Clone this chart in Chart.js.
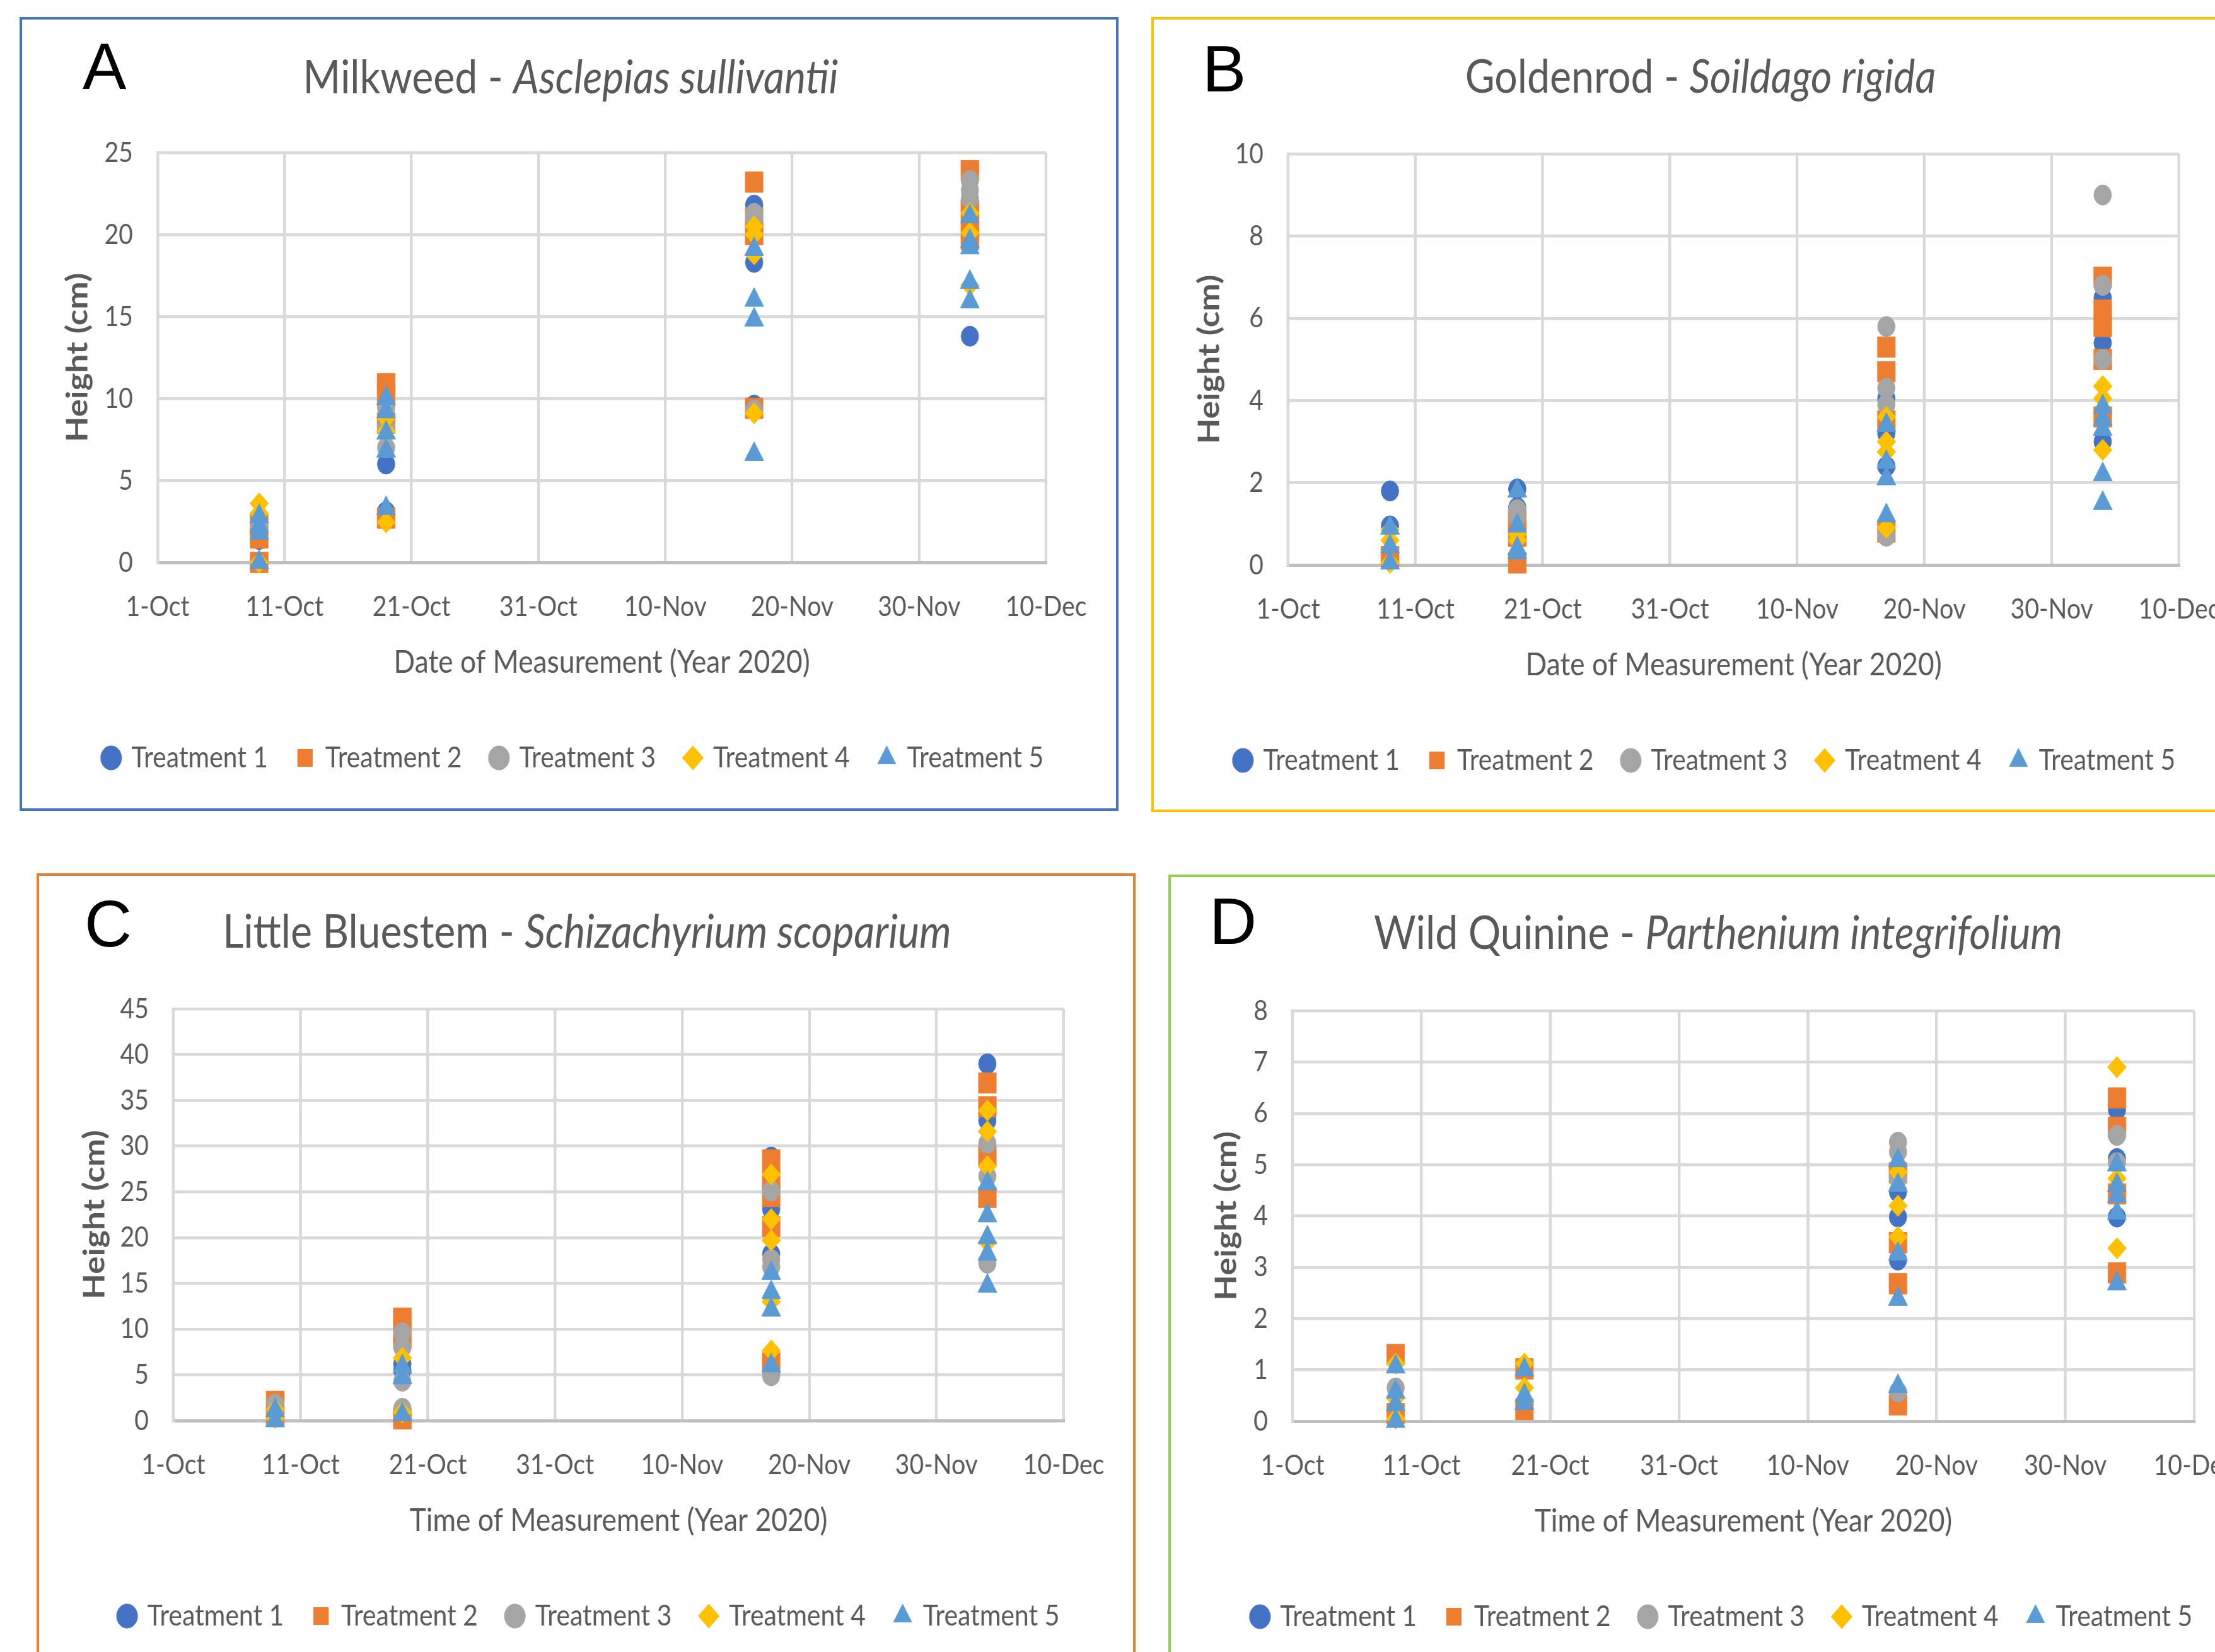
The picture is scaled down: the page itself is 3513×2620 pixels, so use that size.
<!DOCTYPE html>
<html>
<head>
<meta charset="utf-8">
<script src="https://cdn.jsdelivr.net/npm/chart.js@4.4.1/dist/chart.umd.min.js"></script>
<style>
  html, body { margin: 0; padding: 0; background: #fff; }
  body { width: 3513px; height: 2620px; position: relative; overflow: hidden; }
  .panel { position: absolute; box-sizing: border-box; border: 4px solid; }
  .letter { position: absolute; font-family: "Liberation Sans", Arial, sans-serif; font-size: 104px; line-height: 1; color: #000; }
  .ttl { position: absolute; font-family: Lato, "Open Sans", sans-serif; font-size: 74px; line-height: 1;
         color: #595959; white-space: nowrap; transform: translateX(-50%) scaleX(0.87); }
  .wrap { position: absolute; transform-origin: 0 0; }
  .wrap canvas { position: absolute; left: 0; top: 0; }
</style>
</head>
<body>
<script>
// measurement dates, as days after 1-Oct-2020 (9-Oct, 19-Oct, 17-Nov, 4-Dec)
const measureDays = [8, 18, 47, 64];
const dateTicks = ["1-Oct", "11-Oct", "21-Oct", "31-Oct", "10-Nov", "20-Nov", "30-Nov", "10-Dec"];
const treatmentNames = ["Treatment 1", "Treatment 2", "Treatment 3", "Treatment 4", "Treatment 5"];

// heights in cm, one list per measurement date
const milkweedT1 = [[1.4, 2.2], [6.0, 9.6, 3.1], [21.8, 18.3, 9.6], [13.8, 20.0]];
const milkweedT2 = [[1.5, 0, 2.3], [10.9, 10.3, 8.5, 2.7], [23.2, 21.0, 20.0, 9.4], [23.9, 21.5, 20.5, 19.7]];
const milkweedT3 = [[2.2], [9.4, 8.2, 7.0], [21.3, 21.0, 9.3], [23.3, 22.7, 22.2]];
const milkweedT4 = [[3.6, 3.0, 0], [8.0, 8.8, 2.45], [20.5, 20.0, 18.8, 9.1], [21.3, 20.1, 16.9]];
const milkweedT5 = [[2.8, 2.2, 1.8, 0], [10.0, 9.2, 7.9, 6.8, 3.3], [19.1, 16.0, 14.8, 6.6], [21.1, 19.6, 19.2, 17.1, 15.9]];

const goldenrodT1 = [[1.8, 0.95], [1.85, 1.4], [4.05, 3.2, 2.4], [6.5, 5.4, 3.0]];
const goldenrodT2 = [[0.2], [1.1, 0.7, 0.05], [5.3, 4.7, 3.5, 0.8], [7.0, 6.2, 5.8, 5.0, 3.6]];
const goldenrodT3 = [[], [1.35, 1.15], [5.8, 4.3, 3.9, 0.7], [9.0, 6.8, 5.0]];
const goldenrodT4 = [[0.85, 0.6, 0.05], [0.75, 0.6], [3.6, 3.0, 2.75, 0.9], [4.35, 4.05, 2.8]];
const goldenrodT5 = [[0.9, 0.45, 0.05], [1.8, 0.95, 0.4, 0.3], [3.4, 2.5, 2.1, 1.2], [3.85, 3.55, 3.3, 2.2, 1.5]];

const bluestemT1 = [[], [5.5, 6.2], [28.8, 23.1, 18.2], [39.0, 32.8]];
const bluestemT2 = [[2.1, 0.5], [11.2, 9.0, 0.2], [28.5, 26.2, 24.5, 21.2, 6.3], [36.9, 34.3, 28.9, 24.4]];
const bluestemT3 = [[1.8, 0.4], [9.6, 8.0, 4.3, 1.35], [25.1, 17.6, 16.8, 4.9], [30.3, 26.7, 17.2]];
const bluestemT4 = [[1.2, 0.3], [6.85, 0.9], [26.9, 22.0, 19.7, 13.0, 7.65], [33.9, 31.6, 27.8, 19.5]];
const bluestemT5 = [[1.1, 0.0], [5.9, 4.7, 0.65], [16.1, 14.0, 12.1, 6.0], [25.9, 22.4, 20.0, 18.2, 14.7]];

const quinineT1 = [[], [], [4.47, 3.98, 3.14], [6.07, 5.12, 3.98]];
const quinineT2 = [[1.3, 0.15], [1.02, 0.23], [4.84, 3.48, 2.68, 0.32], [6.3, 5.73, 4.43, 2.89]];
const quinineT3 = [[0.65], [], [5.44, 5.25, 4.73, 0.57], [5.57, 5.04]];
const quinineT4 = [[1.12, 0.45, 0.05], [1.12, 0.65], [4.86, 4.2, 3.59], [6.9, 4.73, 3.37]];
const quinineT5 = [[1.06, 0.57, 0.33, 0.0], [1.0, 0.5, 0.35], [5.08, 4.6, 3.26, 2.38, 0.68], [5.0, 4.6, 4.39, 4.06, 2.68]];

const colors = ["#4472C4", "#ED7D31", "#A5A5A5", "#FFC000", "#5B9BD5"];
const shapes = ["circle", "rect", "circle", "rectRot", "triangle"];
const radii = [16, 23, 16, 17, 20];

const FONT = 'Lato, "Open Sans", sans-serif';
const S = 0.87;           // the figure is squeezed horizontally
const X_AXIS_H = 232.5;
const LEG_FONT = 47, LEG_PAD = 54, LEG_BOX = 27;
const legendH = Math.max(LEG_FONT, LEG_BOX) + LEG_PAD + 10;

const panels = [
  { letter: "A", border: "#4472C4", box: [31, 27, 1774, 1286], cx: [35, 1785], ctop: 31,
    plot: [250, 242, 1659, 892], titleX: 905, titleBase: 149, letterAt: [131, 67],
    common: "Milkweed - ", latin: "Asclepias sullivantii", xTitle: "Date of Measurement (Year 2020)",
    yMax: 25, yStep: 5, series: [milkweedT1, milkweedT2, milkweedT3, milkweedT4, milkweedT5] },
  { letter: "B", border: "#FFC000", box: [1826, 27, 3560, 1288], cx: [1830, 3580], ctop: 31,
    plot: [2043, 244, 3456, 896], titleX: 2697, titleBase: 148, letterAt: [1907, 71],
    common: "Goldenrod - ", latin: "Soildago rigida", xTitle: "Date of Measurement (Year 2020)",
    yMax: 10, yStep: 2, series: [goldenrodT1, goldenrodT2, goldenrodT3, goldenrodT4, goldenrodT5] },
  { letter: "C", border: "#ED7D31", box: [58, 1385, 1801, 2660], cx: [62, 1808], ctop: 1389,
    plot: [275, 1600, 1687, 2253], titleX: 931, titleBase: 1504, letterAt: [134, 1427],
    common: "Little Bluestem - ", latin: "Schizachyrium scoparium", xTitle: "Time of Measurement (Year 2020)",
    yMax: 45, yStep: 5, series: [bluestemT1, bluestemT2, bluestemT3, bluestemT4, bluestemT5] },
  { letter: "D", border: "#92D050", box: [1853, 1387, 3560, 2660], cx: [1857, 3607], ctop: 1391,
    plot: [2050, 1603, 3480, 2254], titleX: 2725, titleBase: 1506, letterAt: [1918, 1423],
    common: "Wild Quinine - ", latin: "Parthenium integrifolium", xTitle: "Time of Measurement (Year 2020)",
    yMax: 8, yStep: 1, series: [quinineT1, quinineT2, quinineT3, quinineT4, quinineT5] }
];

function toPoints(series) {
  const pts = [];
  series.forEach((vals, i) => vals.forEach(v => pts.push({ x: measureDays[i], y: v })));
  return pts;
}

function addDiv(cls, css, html) {
  const d = document.createElement("div");
  d.className = cls;
  Object.assign(d.style, css);
  if (html) d.innerHTML = html;
  document.body.appendChild(d);
  return d;
}

panels.forEach(p => {
  addDiv("panel", { left: p.box[0] + "px", top: p.box[1] + "px",
    width: (p.box[2] - p.box[0]) + "px", height: (p.box[3] - p.box[1]) + "px", borderColor: p.border });
  addDiv("letter", { left: p.letterAt[0] + "px", top: (p.letterAt[1] - 14) + "px" }, p.letter);
  addDiv("ttl", { left: p.titleX + "px", top: (p.titleBase - 66) + "px" },
    p.common + "<i>" + p.latin + "</i>");

  const W = Math.round((p.cx[1] - p.cx[0]) / S);
  const yW = (p.plot[0] - p.cx[0]) / S;
  const y2W = W - yW - (p.plot[2] - p.plot[0]) / S;
  const H = Math.round((p.plot[3] - p.ctop) + X_AXIS_H + legendH + 10);
  const padBottom = H - (p.plot[3] - p.ctop) - X_AXIS_H - legendH;

  const wrap = addDiv("wrap", { left: p.cx[0] + "px", top: p.ctop + "px",
    width: W + "px", height: H + "px", transform: "scaleX(" + S + ")" });
  const cv = document.createElement("canvas");
  cv.width = W; cv.height = H;
  cv.style.width = W + "px"; cv.style.height = H + "px";
  wrap.appendChild(cv);

  new Chart(cv.getContext("2d"), {
    type: "scatter",
    data: {
      datasets: p.series.map((s, i) => ({
        label: treatmentNames[i],
        data: toPoints(s),
        pointStyle: shapes[i],
        pointRadius: radii[i],
        backgroundColor: colors[i],
        borderColor: colors[i],
        borderWidth: 1,
        order: 5 - i,
        clip: false
      }))
    },
    options: {
      responsive: false,
      animation: false,
      devicePixelRatio: 1,
      layout: { padding: { top: p.plot[1] - p.ctop, left: 0, right: 0, bottom: padBottom } },
      plugins: {
        tooltip: { enabled: false },
        legend: {
          position: "bottom",
          labels: {
            usePointStyle: true, boxWidth: LEG_BOX, boxHeight: LEG_BOX, padding: LEG_PAD,
            color: "#595959", font: { family: FONT, size: LEG_FONT },
            sort: (a, b) => a.datasetIndex - b.datasetIndex
          }
        }
      },
      scales: {
        x: {
          type: "linear", min: 0, max: 70,
          ticks: { stepSize: 10, padding: 43, autoSkip: false, maxRotation: 0, color: "#595959",
                   font: { family: FONT, size: 45 }, callback: v => dateTicks[Math.round(v / 10)] },
          grid: { color: "#D9D9D9", lineWidth: 5, drawTicks: false },
          border: { color: "#BFBFBF", width: 5 },
          title: { display: true, text: p.xTitle, color: "#595959",
                   font: { family: FONT, size: 51 }, padding: { top: 0, bottom: 43 } },
          afterFit: s => { s.height = X_AXIS_H; }
        },
        y: {
          min: 0, max: p.yMax,
          ticks: { stepSize: p.yStep, padding: 45, color: "#595959", font: { family: FONT, size: 45 } },
          grid: { color: "#D9D9D9", lineWidth: 4.5, drawTicks: false },
          border: { color: "#D9D9D9", width: 5 },
          title: { display: true, text: "Height (cm)", color: "#595959",
                   font: { family: FONT, size: 53, weight: "bold" }, padding: { top: 70, bottom: 0 } },
          afterFit: s => { s.width = yW; }
        },
        y2: {
          position: "right", display: true,
          grid: { display: false }, border: { display: false }, ticks: { display: false },
          afterFit: s => { s.width = y2W; }
        }
      }
    }
  });
});
</script>
</body>
</html>
